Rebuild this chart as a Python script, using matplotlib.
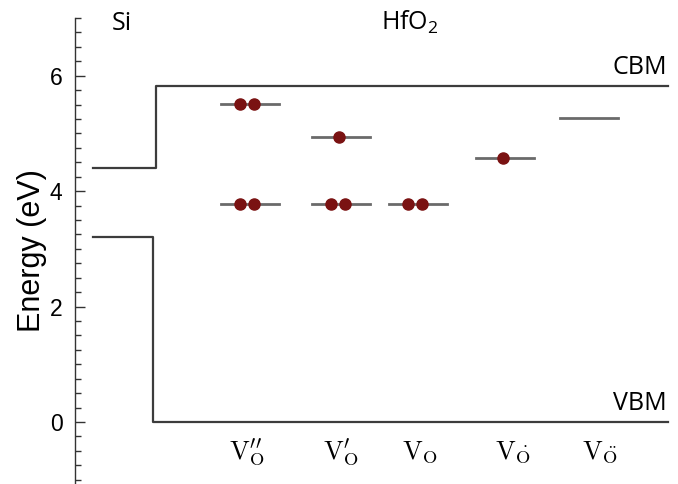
import matplotlib.pyplot as plt
from matplotlib.ticker import MultipleLocator

plt.rcParams['font.family'] = 'Liberation Sans'
plt.rcParams['mathtext.fontset'] = 'custom'
plt.rcParams['mathtext.rm'] = 'Open Sans'

# band edges (eV)
si_vbm = 3.2
si_cbm = 4.4
hfo2_vbm = 0.0
hfo2_cbm = 5.83

# x positions (in 1/100 px of the original layout)
si_left = 0.93
vb_step = 1.53
cb_step = 1.56
band_right = 6.68

# oxygen vacancy defects
defect_labels = [r'$\mathrm{V}_{\mathrm{O}}^{\prime\prime}$',
                 r'$\mathrm{V}_{\mathrm{O}}^{\prime}$',
                 r'$\mathrm{V}_{\mathrm{O}}$',
                 r'$\mathrm{V}_{\dot{\mathrm{O}}}$',
                 r'$\mathrm{V}_{\ddot{\mathrm{O}}}$']
label_x = [2.47, 3.41, 4.20, 5.13, 6.00]
defect_x = [2.50, 3.41, 4.185, 5.045, 5.885]

# levels: (defect index, energy, electrons)
level_defect = [0, 0, 1, 1, 2, 3, 4]
level_energy = [5.51, 3.78, 4.94, 3.78, 3.78, 4.58, 5.27]
level_elec = [2, 2, 1, 2, 2, 1, 0]

half_w = 0.29
dot_gap = 0.14

fig = plt.figure(figsize=(6.78, 4.84), dpi=100)
ax = fig.add_axes([75 / 678, 0.0, 603 / 678, 466 / 484])
ax.set_xlim(0.75, 6.78)
ax.set_ylim(-1.075, 7.0)

band_kw = dict(color='#3c3c3c', lw=1.6)
ax.plot([si_left, vb_step, vb_step, band_right], [si_vbm, si_vbm, hfo2_vbm, hfo2_vbm], **band_kw)
ax.plot([si_left, cb_step, cb_step, band_right], [si_cbm, si_cbm, hfo2_cbm, hfo2_cbm], **band_kw)

for d, e, n in zip(level_defect, level_energy, level_elec):
    xc = defect_x[d]
    ax.plot([xc - half_w, xc + half_w], [e, e], color='#6a6a6a', lw=2, zorder=2)
    if n == 2:
        xs = [xc - 0.03 - dot_gap / 2, xc - 0.03 + dot_gap / 2]
    elif n == 1:
        xs = [xc - 0.02]
    else:
        xs = []
    ax.plot(xs, [e] * len(xs), 'o', color='#7a1212', ms=8, mec='#7a1212', zorder=3)

for x, lab in zip(label_x, defect_labels):
    ax.text(x, -0.63, lab, ha='center', va='baseline', fontsize=19, math_fontfamily='cm')

ax.text(1.22, 6.8, 'Si', ha='center', va='baseline', fontsize=18, family='Open Sans')
ax.text(4.10, 6.8, r'HfO$_{\mathrm{2}}$', ha='center', va='baseline', fontsize=18, family='Open Sans')
ax.text(6.40, 6.03, 'CBM', ha='center', va='baseline', fontsize=18, family='Open Sans')
ax.text(6.40, 0.21, 'VBM', ha='center', va='baseline', fontsize=18, family='Open Sans')

for s in ['top', 'right', 'bottom']:
    ax.spines[s].set_visible(False)
ax.spines['left'].set_linewidth(1.0)
ax.spines['left'].set_color('#333333')
ax.set_xticks([])
ax.set_yticks([0, 2, 4, 6])
ax.yaxis.set_minor_locator(MultipleLocator(0.25))
ax.tick_params(axis='y', which='major', direction='in', length=7.5, width=1, labelsize=16.5, pad=9, color='#333333')
ax.tick_params(axis='y', which='minor', direction='in', length=4.5, width=1, color='#333333')
ax.set_ylabel('Energy (eV)', fontsize=22, labelpad=2)

fig.savefig('out.png', dpi=100)
